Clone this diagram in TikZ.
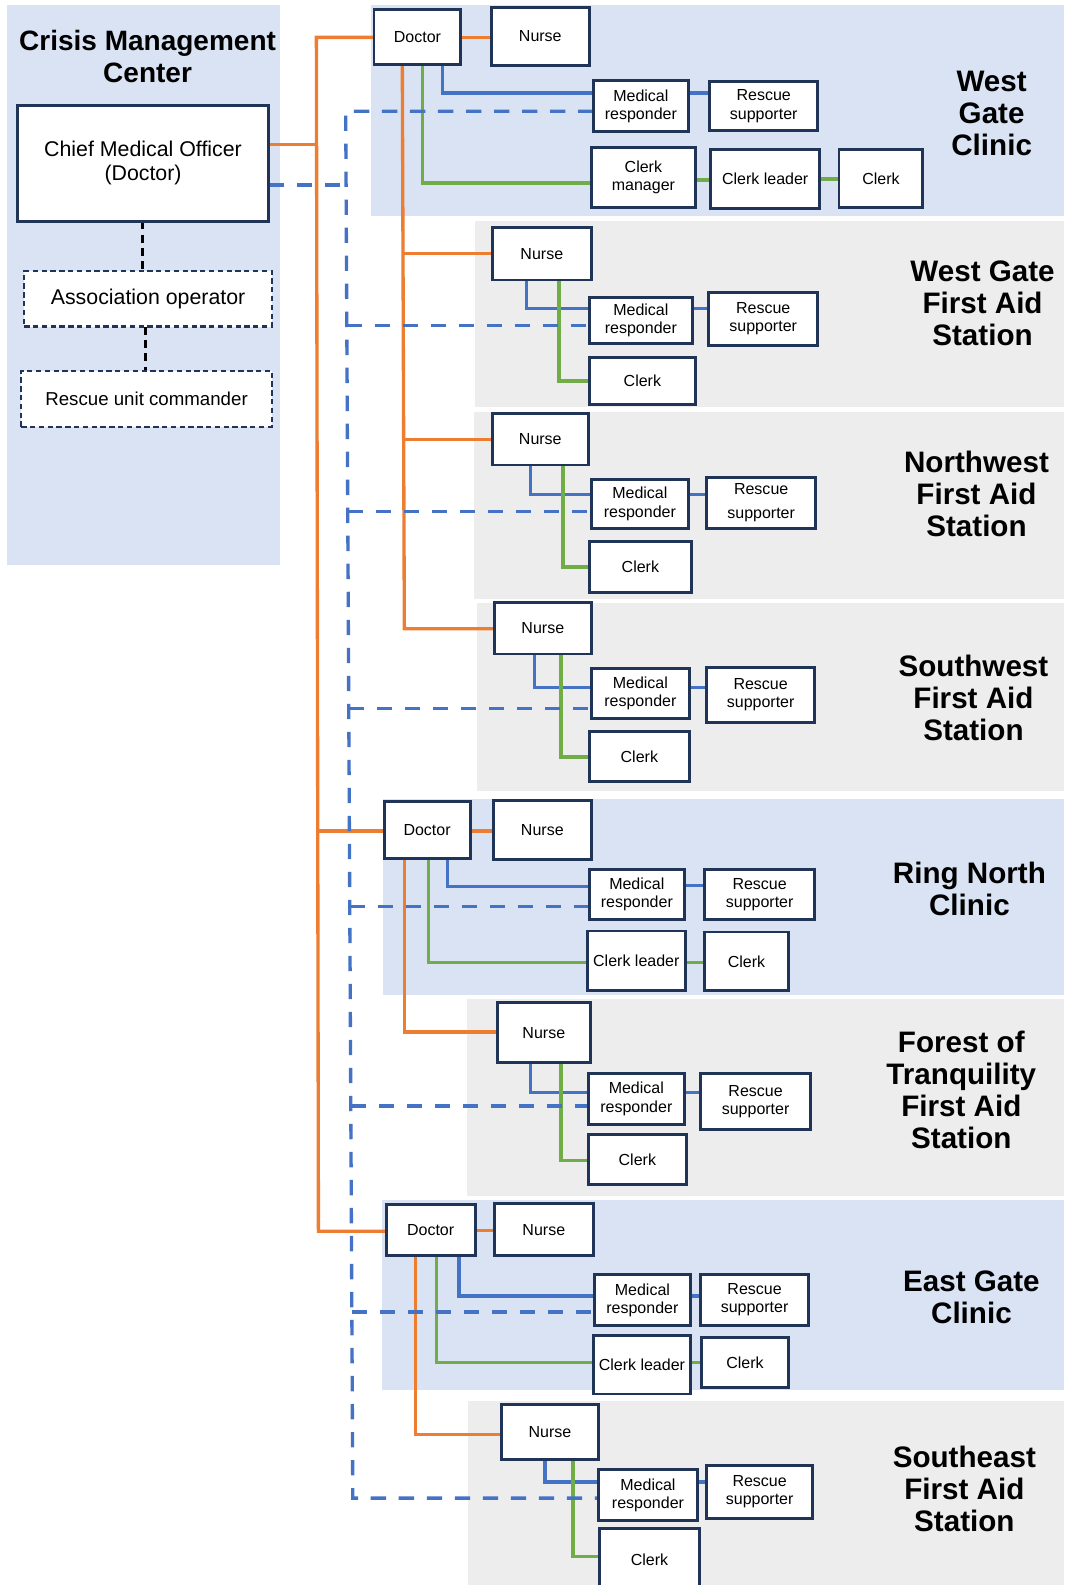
\documentclass[tikz,border=0pt]{standalone}
\usepackage{fontspec}
\setmainfont{Liberation Sans}
\usetikzlibrary{calc}

\definecolor{panelblue}{HTML}{DAE3F3}
\definecolor{panelgray}{HTML}{EDEDED}
\definecolor{lineorange}{HTML}{ED7D31}
\definecolor{lineblue}{HTML}{4472C4}
\definecolor{linegreen}{HTML}{70AD47}
\definecolor{boxnavy}{HTML}{1F3456}

\pgfdeclarelayer{panels}
\pgfdeclarelayer{links}
\pgfsetlayers{panels,links,main}

% one drawing unit = 0.7579pt, y grows downwards
% \bx[style]{name}{x1}{y1}{x2}{y2}{text}
\newcommand\bx[7][box]{%
  \node[#1, minimum width={(#5-#3)*0.7579pt}, minimum height={(#6-#4)*0.7579pt}]
    (#2) at ({(#3+#5)/2},{(#4+#6)/2}) {#7};}

\tikzset{
  box/.style={draw=boxnavy, line width=2.2pt, fill=white, align=center,
    inner sep=1pt, outer sep=0pt, font=\fontsize{12}{13.6}\selectfont},
  dbox/.style={box, dash pattern=on 4pt off 2.6pt, line width=1.6pt},
  title/.style={align=center, font=\bfseries\fontsize{22.2}{24}\selectfont},
  orl/.style={draw=lineorange, line width=2.5pt},
  bll/.style={draw=lineblue, line width=2.5pt},
  grl/.style={draw=linegreen, line width=2.5pt},
  dbl/.style={draw=lineblue, line width=2.5pt, dash pattern=on 11.5pt off 9.5pt},
  blk/.style={draw=black, line width=2.8pt, dash pattern=on 6pt off 4pt},
}

\begin{document}
\begin{tikzpicture}[x=0.7579pt, y=-0.7579pt]
\useasboundingbox (0,0) rectangle (1053,1568);

% ---------- panels ----------
\begin{pgfonlayer}{panels}
  \fill[panelblue] (7,5) rectangle (277,559);
  \fill[panelblue] (367,5) rectangle (1053,214);
  \fill[panelgray] (470,219) rectangle (1053,403);
  \fill[panelgray] (469,408) rectangle (1053,593);
  \fill[panelgray] (472,597) rectangle (1053,783);
  \fill[panelblue] (379,790) rectangle (1053,984);
  \fill[panelgray] (462,988) rectangle (1053,1183);
  \fill[panelblue] (378,1187) rectangle (1053,1375);
  \fill[panelgray] (463,1386) rectangle (1053,1568);
\end{pgfonlayer}

% ---------- titles ----------
\node[title, font=\bfseries\fontsize{21}{24}\selectfont] (tcmc) at (146,56) {Crisis Management\\Center};
\node[title] (t1) at (981,112) {West\\Gate\\Clinic};
\node[title] (t2) at (972,300) {West Gate\\First Aid\\Station};
\node[title] (t3) at (966,489) {Northwest\\First Aid\\Station};
\node[title] (t4) at (963,690) {Southwest\\First Aid\\Station};
\node[title] (t5) at (959,879) {Ring North\\Clinic};
\node[title] (t6) at (951,1078) {Forest of\\Tranquility\\First Aid\\Station};
\node[title] (t7) at (961,1283) {East Gate\\Clinic};
\node[title] (t8) at (954,1473) {Southeast\\First Aid\\Station};

% ---------- crisis management center ----------
\bx[box, font=\fontsize{16}{18}\selectfont]{cmo}{17}{104}{266}{219}{Chief Medical Officer\\(Doctor)}
\bx[dbox, font=\fontsize{16}{18}\selectfont]{ao}{24}{268}{269}{323}{Association operator}
\bx[dbox, font=\fontsize{14}{16}\selectfont]{ruc}{21}{367}{269}{422}{Rescue unit commander}

% ---------- West Gate Clinic ----------
\bx{d1}{370}{9}{456}{64}{Doctor}
\bx{n1}{486}{7}{583}{65}{Nurse}
\bx{m1}{587}{80}{681}{130}{Medical\\responder}
\bx{r1}{702}{81}{809}{129}{Rescue\\supporter}
\bx{cm1}{585}{146}{688}{205}{Clerk\\manager}
\bx{cl1}{703}{148}{811}{206}{Clerk leader}
\bx{c1}{830}{148}{913}{205}{Clerk}

% ---------- West Gate First Aid Station ----------
\bx{n2}{487}{225}{585}{277}{Nurse}
\bx{m2}{583}{294}{685}{340}{Medical\\responder}
\bx{r2}{701}{289}{809}{342}{Rescue\\supporter}
\bx{c2}{583}{354}{688}{400}{Clerk}

% ---------- Northwest First Aid Station ----------
\bx{n3}{487}{409}{582}{460}{Nurse}
\bx{m3}{585}{474}{681}{523}{Medical\\responder}
\bx[box, font=\fontsize{12}{18}\selectfont]{r3}{699}{472}{807}{523}{Rescue\\supporter}
\bx{c3}{583}{536}{684}{586}{Clerk}

% ---------- Southwest First Aid Station ----------
\bx{n4}{489}{596}{585}{647}{Nurse}
\bx{m4}{585}{661}{682}{711}{Medical\\responder}
\bx{r4}{699}{660}{806}{715}{Rescue\\supporter}
\bx{c4}{583}{724}{682}{773}{Clerk}

% ---------- Ring North Clinic ----------
\bx{d5}{380}{793}{465}{849}{Doctor}
\bx{n5}{488}{792}{585}{850}{Nurse}
\bx{m5}{583}{860}{677}{910}{Medical\\responder}
\bx{r5}{697}{860}{806}{910}{Rescue\\supporter}
\bx{cl5}{581}{921}{678}{980}{Clerk leader}
\bx{c5}{697}{922}{780}{980}{Clerk}

% ---------- Forest of Tranquility First Aid Station ----------
\bx{n6}{492}{992}{584}{1051}{Nurse}
\bx{m6}{582}{1062}{677}{1112}{Medical\\responder}
\bx{r6}{693}{1062}{802}{1117}{Rescue\\supporter}
\bx{c6}{582}{1122}{679}{1172}{Clerk}

% ---------- East Gate Clinic ----------
\bx{d7}{382}{1192}{470}{1242}{Doctor}
\bx{n7}{489}{1191}{587}{1242}{Nurse}
\bx{m7}{588}{1261}{683}{1311}{Medical\\responder}
\bx{r7}{693}{1261}{800}{1311}{Rescue\\supporter}
\bx{cl7}{587}{1321}{683}{1379}{Clerk leader}
\bx{c7}{694}{1323}{780}{1373}{Clerk}

% ---------- Southeast First Aid Station ----------
\bx{n8}{496}{1389}{592}{1444}{Nurse}
\bx{m8}{592}{1454}{690}{1504}{Medical\\responder}
\bx{r8}{699}{1450}{804}{1502}{Rescue\\supporter}
\bx{c8}{593}{1512}{692}{1574}{Clerk}

% ---------- connectors ----------
\begin{pgfonlayer}{links}
  % chain of command inside the center
  \draw[blk] (141,0 |- cmo.south) -- (141,0 |- ao.north);
  \draw[blk] (144,0 |- ao.south) -- (144,0 |- ruc.north);

  % orange: doctors and nurses
  \draw[orl] (cmo.east |- 0,143) -- (313,143);
  \draw[orl] (d1.west |- 0,37) -- (313,37) -- (315,1218) -- (d7.west |- 0,1218);
  \draw[orl] (314,822) -- (d5.west |- 0,822);
  \draw[orl] (d1.east |- 0,37) -- (n1.west |- 0,37);
  \draw[orl] (d5.east |- 0,822) -- (n5.west |- 0,822);
  \draw[orl] (d7.east |- 0,1217) -- (n7.west |- 0,1217);
  \draw[orl] (398,0 |- d1.south) -- (400,622) -- (n4.west |- 0,622);
  \draw[orl] (398.5,251) -- (n2.west |- 0,251);
  \draw[orl] (399,435) -- (n3.west |- 0,435);
  \draw[orl] (400,0 |- d5.south) |- (n6.west |- 0,1021);
  \draw[orl] (411,0 |- d7.south) |- (n8.west |- 0,1419);

  % blue: medical responders and rescue supporters
  \draw[bll] (438,0 |- d1.south) |- (m1.west |- 0,92);
  \draw[bll] (m1.east |- 0,92) -- (r1.west |- 0,92);
  \draw[bll] (521,0 |- n2.south) |- (m2.west |- 0,305);
  \draw[bll] (m2.east |- 0,305) -- (r2.west |- 0,305);
  \draw[bll] (525,0 |- n3.south) |- (m3.west |- 0,489);
  \draw[bll] (m3.east |- 0,489) -- (r3.west |- 0,489);
  \draw[bll] (529,0 |- n4.south) |- (m4.west |- 0,680);
  \draw[bll] (m4.east |- 0,680) -- (r4.west |- 0,680);
  \draw[bll] (443,0 |- d5.south) |- (m5.west |- 0,877);
  \draw[bll] (m5.east |- 0,876) -- (r5.west |- 0,876);
  \draw[bll] (525,0 |- n6.south) |- (m6.west |- 0,1081);
  \draw[bll] (m6.east |- 0,1081) -- (r6.west |- 0,1081);
  \draw[bll] (454,0 |- d7.south) |- (m7.west |- 0,1282);
  \draw[bll] (m7.east |- 0,1282) -- (r7.west |- 0,1282);
  \draw[bll] (539,0 |- n8.south) |- (m8.west |- 0,1466);
  \draw[bll] (m8.east |- 0,1466) -- (r8.west |- 0,1466);

  % green: clerks
  \draw[grl] (418,0 |- d1.south) |- (cm1.west |- 0,181);
  \draw[grl] (cm1.east |- 0,178) -- (cl1.west |- 0,178);
  \draw[grl] (cl1.east |- 0,177) -- (c1.west |- 0,177);
  \draw[grl] (553,0 |- n2.south) |- (c2.west |- 0,377);
  \draw[grl] (557,0 |- n3.south) |- (c3.west |- 0,561);
  \draw[grl] (555,0 |- n4.south) |- (c4.west |- 0,749);
  \draw[grl] (424,0 |- d5.south) |- (cl5.west |- 0,952);
  \draw[grl] (cl5.east |- 0,952) -- (c5.west |- 0,952);
  \draw[grl] (555,0 |- n6.south) |- (c6.west |- 0,1148);
  \draw[grl] (432,0 |- d7.south) |- (cl7.west |- 0,1348);
  \draw[grl] (cl7.east |- 0,1348) -- (c7.west |- 0,1348);
  \draw[grl] (567,0 |- n8.south) |- (c8.west |- 0,1540);

  % dashed blue: direct line from the chief to every medical responder
  \draw[dbl] (cmo.east |- 0,183) -- (342,183);
  \draw[dbl] (m1.west |- 0,110) -- (342,110) -- (349,1482) -- (m8.west |- 0,1482);
  \draw[dbl] (343,322) -- (m2.west |- 0,322);
  \draw[dbl] (344,506) -- (m3.west |- 0,506);
  \draw[dbl] (345,701) -- (m4.west |- 0,701);
  \draw[dbl] (346,897) -- (m5.west |- 0,897);
  \draw[dbl] (347,1094) -- (m6.west |- 0,1094);
  \draw[dbl] (348,1298) -- (m7.west |- 0,1298);
\end{pgfonlayer}
\end{tikzpicture}
\end{document}
